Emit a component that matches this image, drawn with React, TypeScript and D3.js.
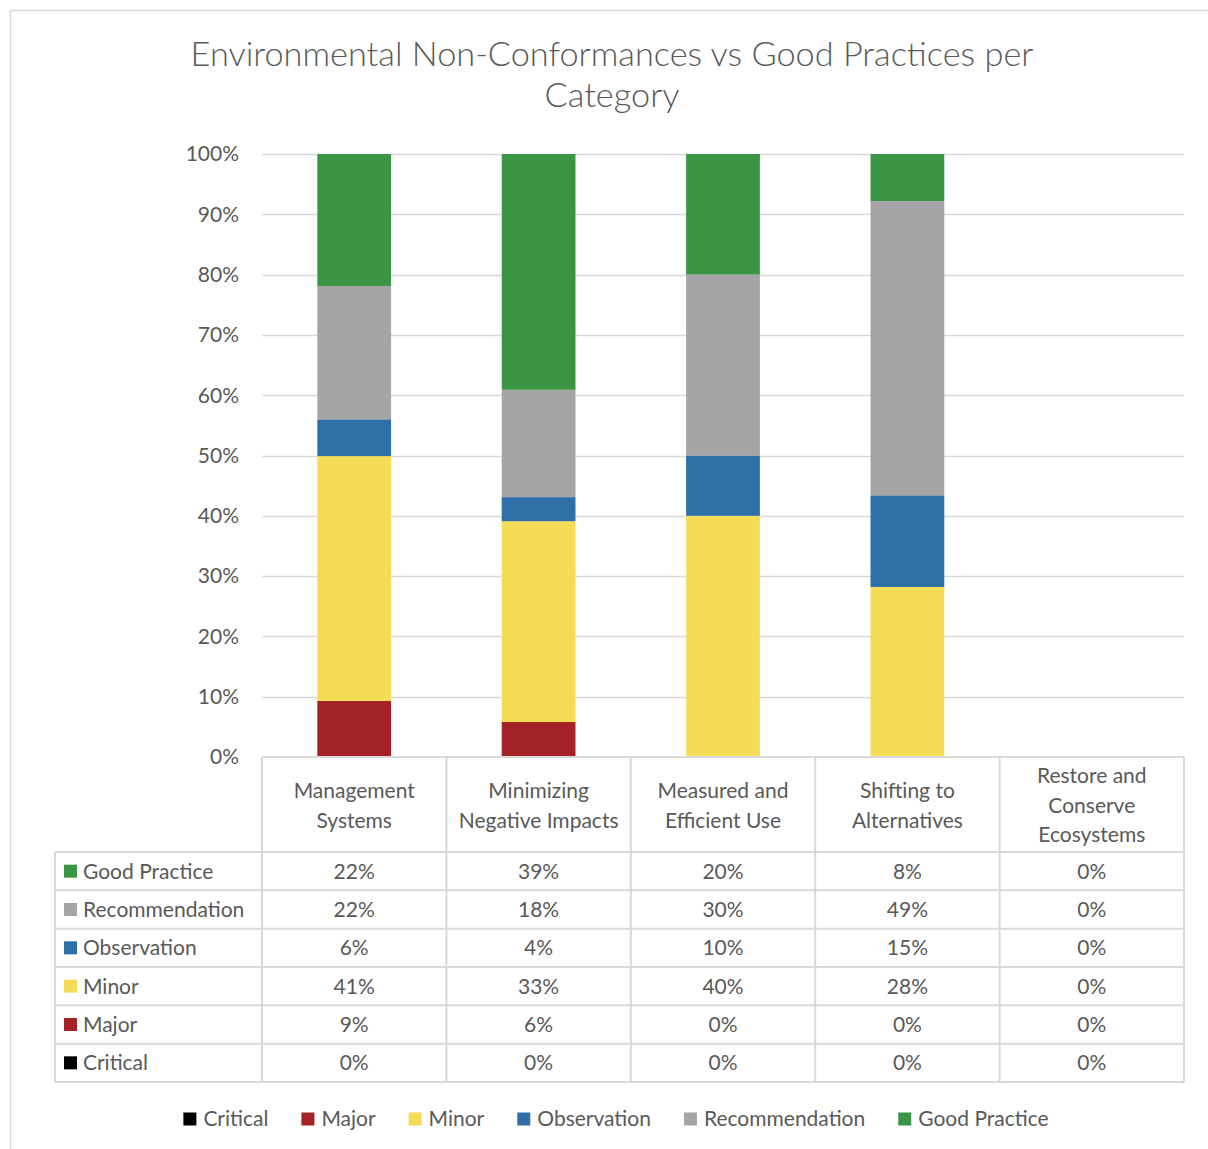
import React, { useEffect, useRef } from "react";
import * as d3 from "d3";

const categories: string[][] = [
  ["Management", "Systems"],
  ["Minimizing", "Negative Impacts"],
  ["Measured and", "Efficient Use"],
  ["Shifting to", "Alternatives"],
  ["Restore and", "Conserve", "Ecosystems"],
];
const seriesNames = ["Critical", "Major", "Minor", "Observation", "Recommendation", "Good Practice"];
const critical = [0, 0, 0, 0, 0];
const major = [0.093, 0.058, 0, 0, 0];
const minor = [0.406, 0.333, 0.4, 0.282, 0];
const observation = [0.061, 0.04, 0.1, 0.152, 0];
const recommendation = [0.221, 0.178, 0.3, 0.488, 0];
const goodPractice = [0.219, 0.391, 0.2, 0.078, 0];
const seriesColors = ["#000000", "#a32226", "#f4dc56", "#2e6fa7", "#a5a5a5", "#3a9645"];
const yTicks = [0, 0.1, 0.2, 0.3, 0.4, 0.5, 0.6, 0.7, 0.8, 0.9, 1.0];
const titleLines = ["Environmental Non-Conformances vs Good Practices per", "Category"];

const FONT = "Lato, 'Open Sans', sans-serif";
const TEXT = "#595959";
const GRID = "#d9d9d9";
const FS = 21;

export default function App() {
  const ref = useRef<SVGSVGElement | null>(null);
  useEffect(() => {
    const svg = d3.select(ref.current);
    svg.selectAll("*").remove();
    const W = 1208, H = 1149;
    const plotL = 262, plotR = 1184, plotT = 154, plotB = 757;
    const allSeries = [critical, major, minor, observation, recommendation, goodPractice];
    const rows = categories.map((c, i) => {
      const o: any = { idx: i };
      seriesNames.forEach((s, k) => (o[s] = allSeries[k][i]));
      return o;
    });

    svg.append("rect").attr("x", 0).attr("y", 0).attr("width", W).attr("height", H).attr("fill", "#fff");
    svg.append("rect").attr("x", 10.5).attr("y", 10.5).attr("width", W + 20).attr("height", H + 20)
      .attr("fill", "none").attr("stroke", GRID).attr("stroke-width", 1.5);

    // title
    titleLines.forEach((t, i) => {
      svg.append("text").attr("x", 612).attr("y", 66 + i * 41).attr("text-anchor", "middle")
        .attr("font-family", FONT).attr("font-weight", 300).attr("font-size", 34.3).attr("fill", TEXT).text(t);
    });

    const x = d3.scaleBand<number>().domain(categories.map((_, i) => i)).range([plotL, plotR]).paddingInner(0).paddingOuter(0);
    const y = d3.scaleLinear().domain([0, 1]).range([plotB, plotT]);

    // gridlines
    svg.append("g").selectAll("line").data(yTicks.slice(1)).join("line")
      .attr("x1", plotL).attr("x2", plotR).attr("y1", (d) => Math.round(y(d)) + 0.5).attr("y2", (d) => Math.round(y(d)) + 0.5)
      .attr("stroke", GRID).attr("stroke-width", 1.5);
    // y labels
    svg.append("g").selectAll("text").data(yTicks).join("text")
      .attr("x", 239).attr("y", (d) => y(d)).attr("dy", "0.35em").attr("text-anchor", "end")
      .attr("font-family", FONT).attr("font-size", FS).attr("fill", TEXT)
      .text((d) => d3.format(".0%")(d));

    // bars
    const stack = d3.stack<any>().keys(seriesNames);
    const stacked = stack(rows);
    const bw = x.bandwidth() * 0.4;
    svg.append("g").selectAll("g").data(stacked).join("g")
      .attr("fill", (_, k) => seriesColors[k])
      .selectAll("rect").data((s) => s).join("rect")
      .attr("x", (d: any) => x(d.data.idx)! + (x.bandwidth() - bw) / 2)
      .attr("width", bw)
      .attr("y", (d: any) => y(d[1]))
      .attr("height", (d: any) => Math.max(0, y(d[0]) - y(d[1])));

    // data table
    const headerB = 852;
    const rowH = (1082 - headerB) / 6;
    const tableL = 55;
    const tg = svg.append("g");
    const line = (x1: number, y1: number, x2: number, y2: number) =>
      tg.append("line").attr("x1", x1).attr("y1", y1).attr("x2", x2).attr("y2", y2)
        .attr("stroke", GRID).attr("stroke-width", 2);
    categories.forEach((_, i) => line(x(i)!, plotB, x(i)!, 1082));
    line(plotR, plotB, plotR, 1082);
    line(tableL, headerB, tableL, 1082);
    line(plotL, plotB, plotR, plotB);
    for (let r = 0; r <= 6; r++) line(tableL, headerB + r * rowH, plotR, headerB + r * rowH);

    // header text
    categories.forEach((lines, i) => {
      const cx = x(i)! + x.bandwidth() / 2;
      const cy = (plotB + headerB) / 2 + 1;
      const lh = 29.5;
      lines.forEach((t, j) => {
        tg.append("text").attr("x", cx).attr("y", cy + (j - (lines.length - 1) / 2) * lh).attr("dy", "0.35em")
          .attr("text-anchor", "middle").attr("font-family", FONT).attr("font-size", FS).attr("fill", TEXT).text(t);
      });
    });

    const tableOrder = [...seriesNames.keys()].reverse();
    tableOrder.forEach((k, r) => {
      const cy = headerB + r * rowH + rowH / 2;
      tg.append("rect").attr("x", 64).attr("y", cy - 6.5).attr("width", 13).attr("height", 13).attr("fill", seriesColors[k]);
      tg.append("text").attr("x", 83).attr("y", cy).attr("dy", "0.35em").attr("font-family", FONT)
        .attr("font-size", FS).attr("fill", TEXT).text(seriesNames[k]);
      allSeries[k].forEach((v, i) => {
        tg.append("text").attr("x", x(i)! + x.bandwidth() / 2).attr("y", cy).attr("dy", "0.35em")
          .attr("text-anchor", "middle").attr("font-family", FONT).attr("font-size", FS).attr("fill", TEXT)
          .text(d3.format(".0%")(v));
      });
    });

    // legend
    const lg = svg.append("g");
    const items = seriesNames.map((n, k) => {
      const g = lg.append("g");
      g.append("rect").attr("x", 0).attr("y", -6.5).attr("width", 13).attr("height", 13).attr("fill", seriesColors[k]);
      const t = g.append("text").attr("x", 20).attr("dy", "0.35em").attr("font-family", FONT)
        .attr("font-size", FS).attr("fill", TEXT).text(n);
      const w = 20 + (t.node() as SVGTextElement).getComputedTextLength();
      return { g, w };
    });
    const gap = 33;
    const total = d3.sum(items, (d) => d.w) + gap * (items.length - 1);
    let cx = 616 - total / 2;
    items.forEach((it) => {
      it.g.attr("transform", `translate(${cx},1119)`);
      cx += it.w + gap;
    });
  }, []);
  return (
    <svg ref={ref} width={1208} height={1149} style={{ position: "absolute", left: 0, top: 0, display: "block" }} />
  );
}
